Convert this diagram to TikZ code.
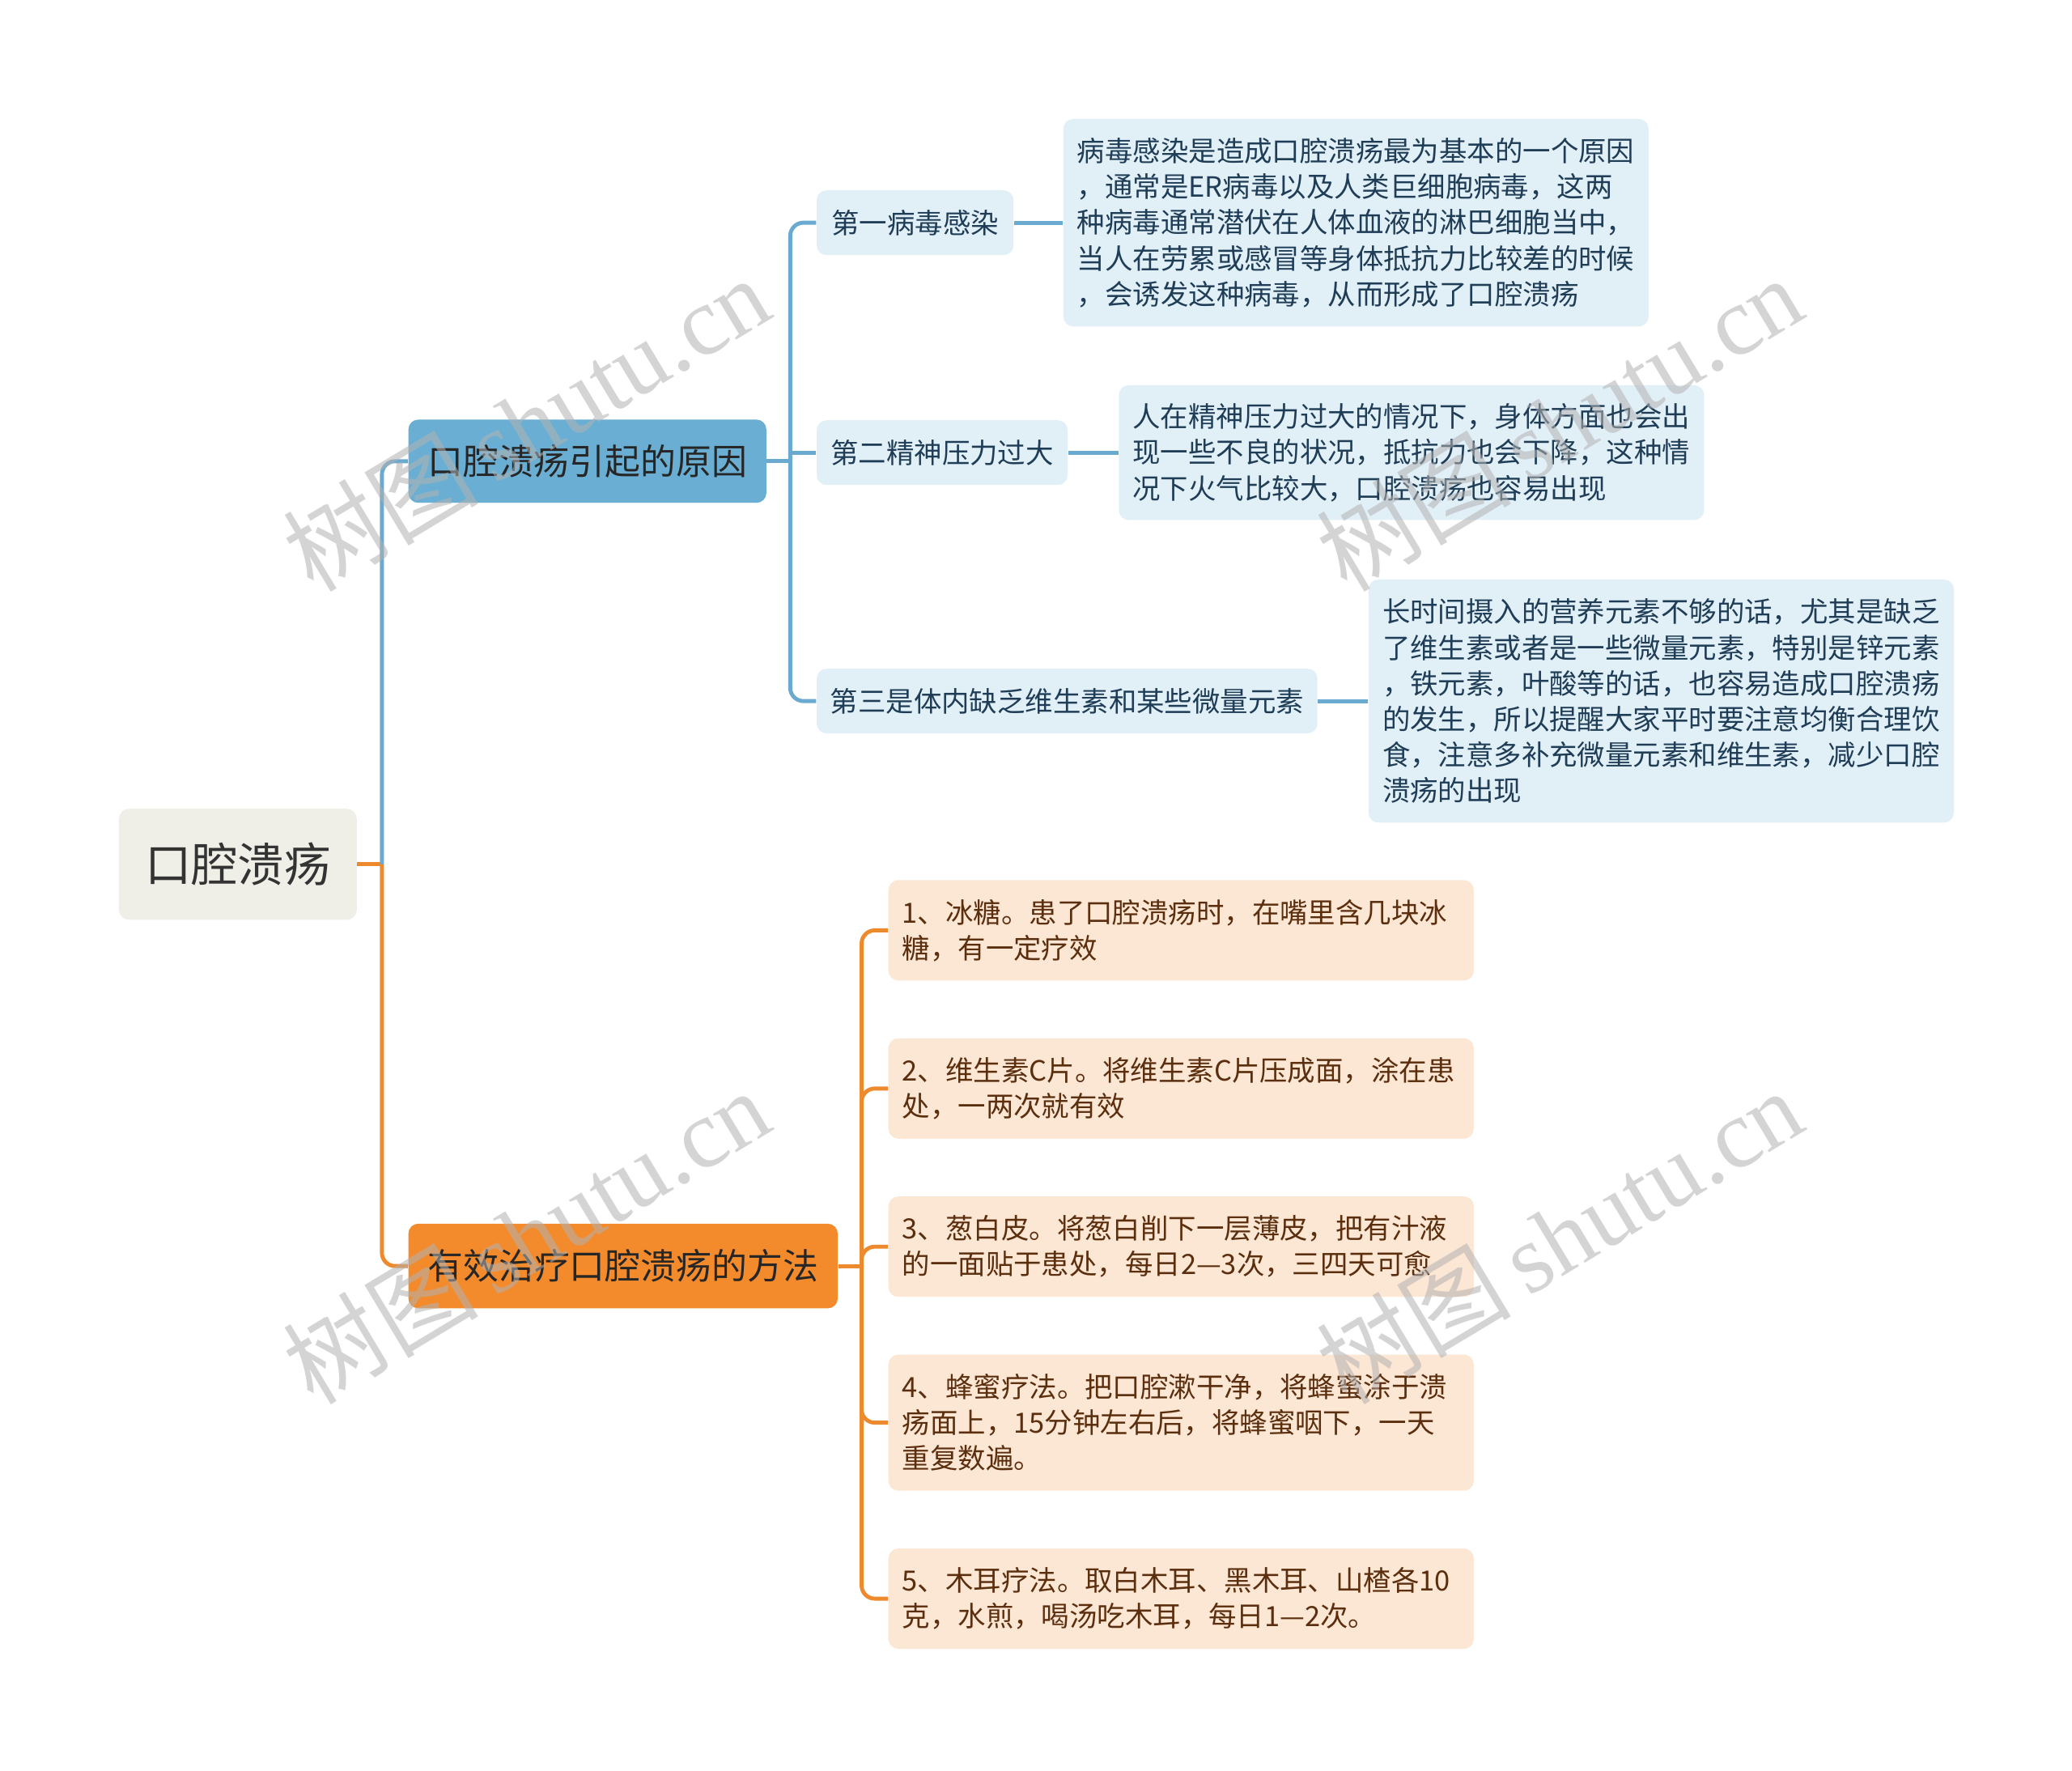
\documentclass[tikz,border=0pt]{standalone}
\usepackage{fontspec}
\setmainfont{Noto Sans CJK SC}
\newfontfamily\wmlatin{Liberation Serif}
\usetikzlibrary{positioning}

\definecolor{rootfill}{HTML}{EFEFE8}
\definecolor{bluemain}{HTML}{6AAFD3}
\definecolor{bluelight}{HTML}{E1EFF7}
\definecolor{bluetext}{HTML}{1F3D56}
\definecolor{bluelink}{HTML}{6AAAD0}
\definecolor{orangemain}{HTML}{F38B2C}
\definecolor{orangelight}{HTML}{FCE6D4}
\definecolor{browntext}{HTML}{5B2E0E}
\definecolor{orangelink}{HTML}{EE8A2E}

\begin{document}
\begin{tikzpicture}[
    x=0.02cm, y=-0.02cm,
    basebox/.style={rounded corners=0.15cm, inner sep=0pt, align=center},
    rootbox/.style={basebox, fill=rootfill, text=black!80, font=\fontsize{20}{24}\selectfont, minimum width=3.6cm, minimum height=1.68cm},
    topicbox/.style={basebox, text=black!85, font=\fontsize{15.3}{18}\selectfont, minimum height=1.26cm},
    causebox/.style={basebox, fill=bluelight, text=bluetext, font=\fontsize{12}{15.4}\selectfont, minimum height=0.98cm},
    notebox/.style={basebox, align=left, text width=8.44cm, inner xsep=0.21cm, font=\fontsize{12}{15.4}\selectfont},
    bnote/.style={notebox, fill=bluelight, text=bluetext},
    onote/.style={notebox, fill=orangelight, text=browntext, minimum height=1.52cm},
    blink/.style={draw=bluelink, line width=1.7pt, rounded corners=0.2cm},
    olink/.style={draw=orangelink, line width=1.7pt, rounded corners=0.2cm},
    wmark/.style={text=gray!60, text opacity=0.55, rotate=31, font=\fontsize{42}{42}\selectfont}
]

    % page
    \fill[white] (0,0) rectangle (1568,1340);

    % main nodes
    \node[rootbox] (root) at (180,654) {口腔溃疡};
    \node[topicbox, fill=bluemain, minimum width=5.42cm] (cause) at (444.5,349) {口腔溃疡引起的原因};
    \node[topicbox, fill=orangemain, minimum width=6.5cm, minimum height=1.28cm] (cure) at (471.5,958) {有效治疗口腔溃疡的方法};

    % causes
    \node[causebox, minimum width=2.98cm] (c1) at (692.5,168.5) {第一病毒感染};
    \node[causebox, minimum width=3.8cm] (c2) at (713,342.5) {第二精神压力过大};
    \node[causebox, minimum width=7.58cm] (c3) at (807.5,530.5) {第三是体内缺乏维生素和某些微量元素};

    \node[bnote, minimum height=3.14cm] (n1) [right=0.74cm of c1] {病毒感染是造成口腔溃疡最为基本的一个原因\\
        ，通常是ER病毒以及人类巨细胞病毒，这两\\
        种病毒通常潜伏在人体血液的淋巴细胞当中，\\
        当人在劳累或感冒等身体抵抗力比较差的时候\\
        ，会诱发这种病毒，从而形成了口腔溃疡};
    \node[bnote, minimum height=2.04cm] (n2) [right=0.76cm of c2] {人在精神压力过大的情况下，身体方面也会出\\
        现一些不良的状况，抵抗力也会下降，这种情\\
        况下火气比较大，口腔溃疡也容易出现};
    \node[bnote, minimum height=3.68cm] (n3) [right=0.76cm of c3] {长时间摄入的营养元素不够的话，尤其是缺乏\\
        了维生素或者是一些微量元素，特别是锌元素\\
        ，铁元素，叶酸等的话，也容易造成口腔溃疡\\
        的发生，所以提醒大家平时要注意均衡合理饮\\
        食，注意多补充微量元素和维生素，减少口腔\\
        溃疡的出现};

    % remedies
    \node[onote, anchor=west] (o1) at (672,704) {1、冰糖。患了口腔溃疡时，在嘴里含几块冰\\糖，有一定疗效};
    \node[onote] (o2) [below=0.86cm of o1] {2、维生素C片。将维生素C片压成面，涂在患\\处，一两次就有效};
    \node[onote] (o3) [below=0.86cm of o2] {3、葱白皮。将葱白削下一层薄皮，把有汁液\\的一面贴于患处，每日2—3次，三四天可愈};
    \node[onote, minimum height=2.06cm] (o4) [below=0.86cm of o3] {4、蜂蜜疗法。把口腔漱干净，将蜂蜜涂于溃\\疡面上，15分钟左右后，将蜂蜜咽下，一天\\重复数遍。};
    \node[onote] (o5) [below=0.86cm of o4] {5、木耳疗法。取白木耳、黑木耳、山楂各10\\克，水煎，喝汤吃木耳，每日1—2次。};

    % junctions
    \coordinate (rj) at (289,654);
    \coordinate (cj) at (598,349);
    \coordinate (oj) at (652,958);

    % links
    \draw[olink] (root.east) -- (rj);
    \draw[blink] (rj) |- (cause.west);
    \draw[olink] (rj) |- (cure.west);

    \draw[blink] (cause.east) -- (cj);
    \draw[blink] (cj) |- (c1.west);
    \draw[blink] (cj) |- (c3.west);
    \draw[blink] (cj |- c2.west) -- (c2.west);
    \foreach \i in {1,2,3}
        \draw[blink] (c\i.east) -- (c\i.east -| n\i.west);

    \draw[olink] (cure.east) -- (oj);
    \foreach \i in {1,...,5}
        \draw[olink] (oj) |- (o\i.west);

    % watermark
    \foreach \x/\y [count=\k] in {398/320, 1180/320, 398/935, 1180/935}
        \node[wmark] (wm\k) at (\x,\y) {树图\,{\wmlatin shutu.cn}};
\end{tikzpicture}
\end{document}
